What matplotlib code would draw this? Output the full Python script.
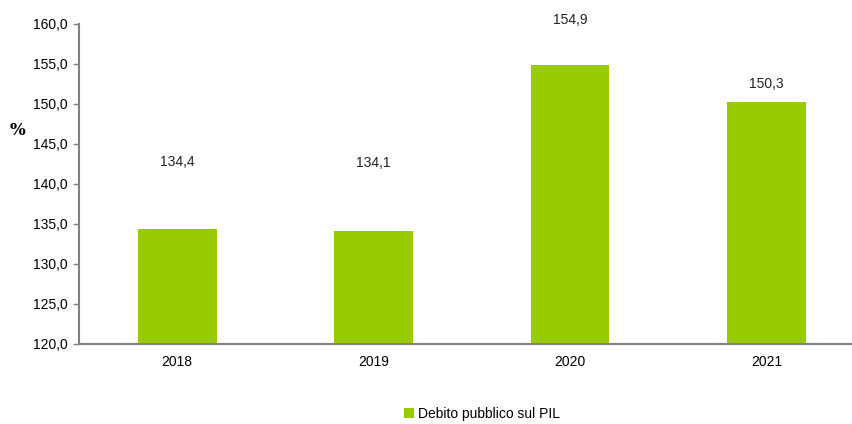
import matplotlib.pyplot as plt
from matplotlib.ticker import FuncFormatter

years = ['2018', '2019', '2020', '2021']
debito = [134.4, 134.1, 154.9, 150.3]
label_offsets = [48, 49, 32, 13]  # points above bar top, as in the original

plt.rcParams['font.family'] = ['Liberation Sans Narrow', 'Liberation Sans', 'DejaVu Sans']

fig = plt.figure(figsize=(8.53, 4.24), dpi=100)
ax = fig.add_axes([0.0926, 0.1887, 0.9074, 0.7547])

x = range(len(years))
bars = ax.bar(x, debito, width=0.4, color='#99CC00', label='Debito pubblico sul PIL', zorder=2)

for b, v, off in zip(bars, debito, label_offsets):
    ax.annotate(f'{v:.1f}'.replace('.', ','),
                (b.get_x() + b.get_width() / 2, v),
                xytext=(0, off), textcoords='offset points',
                ha='center', va='center', fontsize=10, color='#222222')

ax.set_ylim(120, 160)
ax.set_yticks(range(120, 161, 5))
ax.yaxis.set_major_formatter(FuncFormatter(lambda v, p: f'{v:.1f}'.replace('.', ',')))
ax.set_xlim(-0.5, 3.44)
ax.set_xticks(list(x))
ax.set_xticklabels(years)
ax.tick_params(axis='x', length=0, pad=8, labelsize=10)
ax.tick_params(axis='y', length=4, width=1, color='#808080', labelsize=10, pad=4)

for s in ['top', 'right']:
    ax.spines[s].set_visible(False)
for s in ['left', 'bottom']:
    ax.spines[s].set_color('#808080')
    ax.spines[s].set_linewidth(1.5)

ax.set_ylabel('%', rotation=0, fontsize=12, fontweight='bold', family='DejaVu Serif')
ax.yaxis.set_label_coords(-0.08, 0.64)

fig.legend(loc='lower center', bbox_to_anchor=(0.565, -0.022), frameon=False,
           fontsize=10, handlelength=0.7, handleheight=0.7, handletextpad=0.3)

fig.savefig('out.png', dpi=100)
